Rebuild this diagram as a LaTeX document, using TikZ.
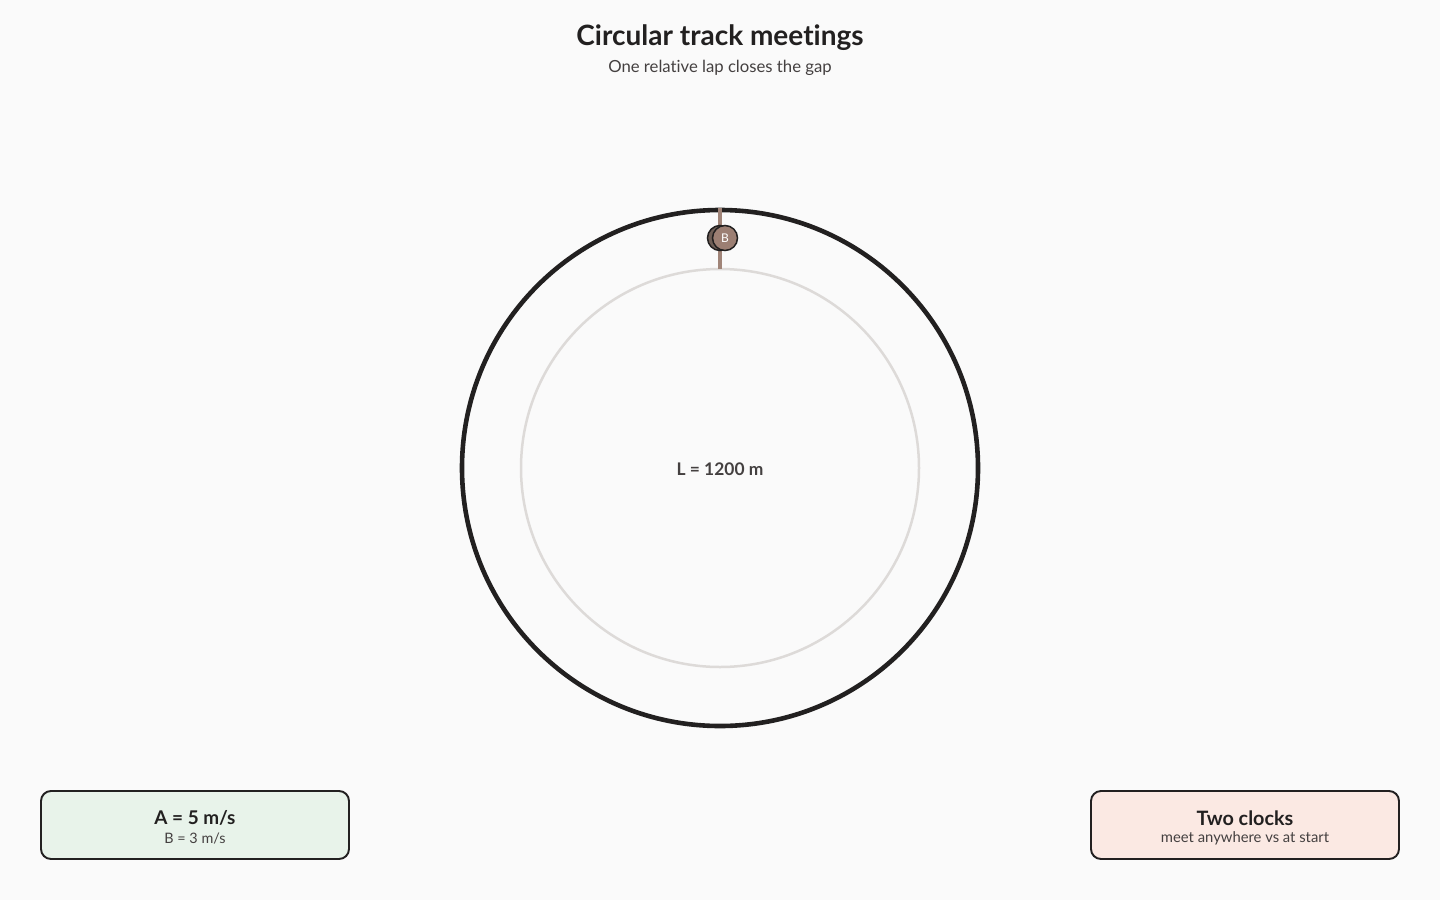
\documentclass[tikz,border=0pt]{standalone}
\usepackage{fontspec}
\setmainfont[Ligatures=NoCommon]{Lato}
\definecolor{bg}{HTML}{FAFAFA}
\definecolor{ink}{HTML}{222020}
\definecolor{sub}{HTML}{444040}
\definecolor{track}{HTML}{DDDAD8}
\definecolor{brown}{HTML}{A08478}
\definecolor{bfill}{HTML}{9C7F73}
\definecolor{afill}{HTML}{6E5E56}
\definecolor{greenbox}{HTML}{E8F3EA}
\definecolor{redbox}{HTML}{FBE9E3}
\tikzset{
  px/.style={x=1pt,y=-1pt},
  infobox/.style={draw=ink,line width=1.9pt,rounded corners=10pt,minimum width=308pt,minimum height=68pt,inner sep=0pt},
  runner/.style={circle,draw=ink,line width=1.5pt,minimum size=25pt,inner sep=0pt,font=\fontsize{12}{12}\selectfont,text=white}
}
\begin{document}
\begin{tikzpicture}[px]
\useasboundingbox (0,0) rectangle (1440,900);
\fill[bg] (0,0) rectangle (1440,900);
\node[font=\fontsize{28}{32}\selectfont\bfseries,text=ink] (title) at (720,37.5) {Circular track meetings};
\node[font=\fontsize{16.7}{20}\selectfont,text=sub] (subtitle) at (720,67.5) {One relative lap closes the gap};
\coordinate (c) at (720,468);
\draw[track,line width=2.5pt] (c) circle[radius=199];
\draw[ink,line width=4.6pt] (c) circle[radius=258];
\coordinate (s1) at (720,208);
\coordinate (s2) at (720,269);
\draw[brown,line width=3.5pt] (s1) -- (s2);
\node[runner,fill=afill] (A) at (720,238) {};
\node[runner,fill=bfill] (B) at (725,238) {B};
\node[font=\fontsize{17.4}{20}\selectfont\bfseries,text=sub] (L) at (720,469) {L = 1200 m};
\node[infobox,fill=greenbox] (left) at (195,825) {};
\node[font=\fontsize{18.9}{22}\selectfont\bfseries,text=ink] at (195,818) {A = 5 m/s};
\node[font=\fontsize{14.4}{16}\selectfont,text=sub] at (195,838.5) {B = 3 m/s};
\node[infobox,fill=redbox] (right) at (1245,825) {};
\node[font=\fontsize{19.8}{22}\selectfont\bfseries,text=ink] at (1245,818) {Two clocks};
\node[font=\fontsize{14.8}{16}\selectfont,text=sub] at (1245,838.5) {meet anywhere vs at start};
\end{tikzpicture}
\end{document}
